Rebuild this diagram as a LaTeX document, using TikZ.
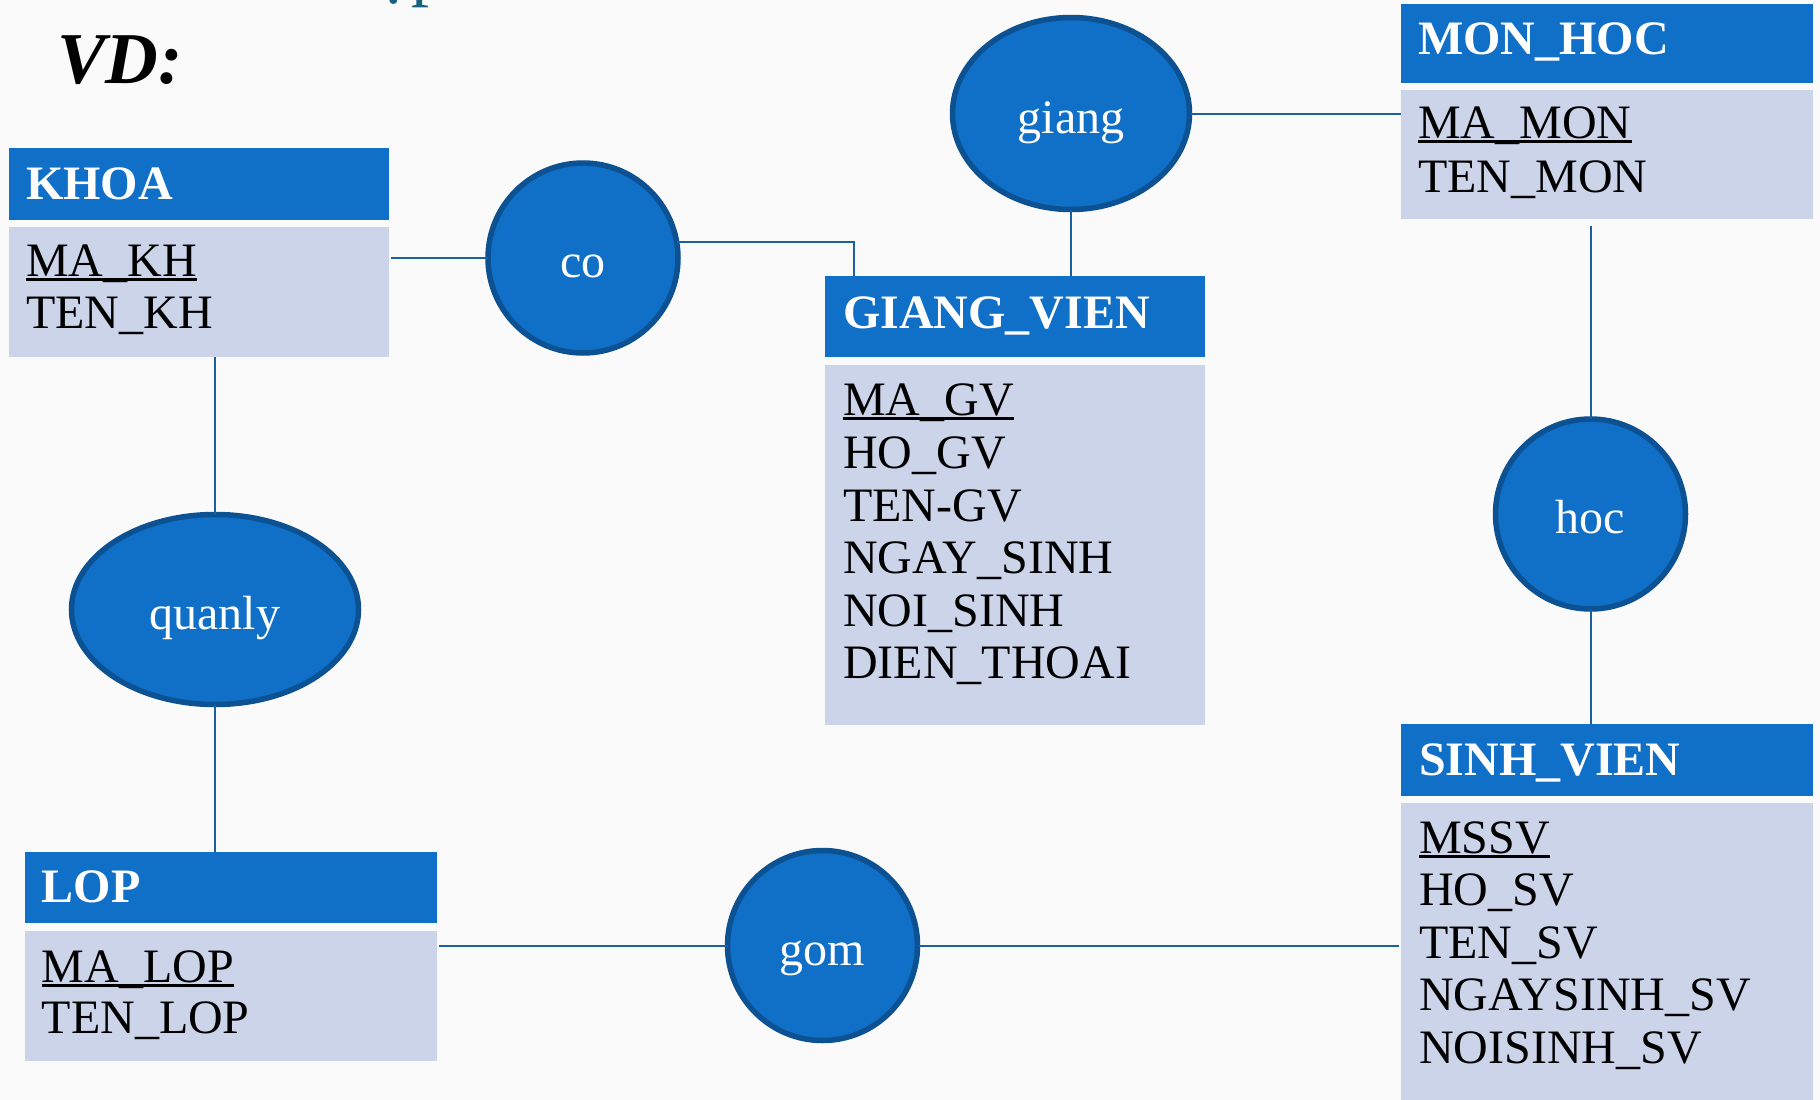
\documentclass[tikz,border=0pt]{standalone}
\usepackage{fontspec}
\setmainfont{Liberation Serif}
\usetikzlibrary{shapes.geometric}
\definecolor{hblue}{HTML}{106FC6}
\definecolor{bfill}{HTML}{CCD4EA}
\definecolor{rline}{HTML}{0C5192}
\definecolor{cline}{HTML}{1A5FA0}
\definecolor{bgc}{HTML}{FAFAFA}
\definecolor{fragc}{HTML}{17607E}
\newcommand\ulx[1]{\setbox0=\hbox{#1}\rlap{\rule[-4.5pt]{\wd0}{2.2pt}}\box0}
\tikzset{
  head/.style={fill=hblue, draw=none, anchor=north west, inner sep=0pt, outer sep=0pt},
  body/.style={fill=bfill, draw=none, anchor=north west, inner sep=0pt, outer sep=0pt},
  rel/.style={ellipse, fill=hblue, draw=rline, line width=5.5pt, inner sep=0pt, outer sep=0pt,
    text=white, font=\fontsize{48}{52}\selectfont, text height=39pt, text depth=0pt},
  link/.style={draw=cline, line width=2pt},
  ttl/.style={anchor=base west, text=white, font=\fontsize{48}{52}\selectfont\bfseries, inner sep=0pt},
  attr/.style={anchor=base west, text=black, font=\fontsize{48}{52}\selectfont, inner sep=0pt},
}
\begin{document}
\begin{tikzpicture}[x=1pt, y=-1pt]
\useasboundingbox (0,0) rectangle (1820,1100);
\fill[bgc] (0,0) rectangle (1820,1100);

% fragment of cut-off title
\node[anchor=base west, inner sep=0pt, text=fragc, font=\fontsize{72}{80}\selectfont] (frag) at (375,-7.6) {ụp};
\node[anchor=base west, inner sep=0pt, font=\fontsize{73}{80}\selectfont\bfseries\itshape] (vd) at (57,83) {VD:};

% KHOA
\node[head, minimum width=380pt, minimum height=72pt] (khoaH) at (9,148) {};
\node[body, minimum width=380pt, minimum height=130pt] (khoaB) at (9,227) {};
\node[ttl] (khoaT) at (26,199) {KHOA};
\node[attr] (khoa1) at (26,276) {\ulx{MA\_KH}};
\node[attr] (khoa2) at (26,328) {TEN\_KH};

% MON_HOC
\node[head, minimum width=412pt, minimum height=79pt] (mhH) at (1401,4) {};
\node[body, minimum width=412pt, minimum height=129pt] (mhB) at (1401,90) {};
\node[ttl] (mhT) at (1418,54) {MON\_HOC};
\node[attr] (mh1) at (1418,138) {\ulx{MA\_MON}};
\node[attr] (mh2) at (1418,192) {TEN\_MON};

% GIANG_VIEN
\node[head, minimum width=380pt, minimum height=81pt] (gvH) at (825,276) {};
\node[body, minimum width=380pt, minimum height=360pt] (gvB) at (825,365) {};
\node[ttl] (gvT) at (843,328) {GIANG\_VIEN};
\node[attr] (gv1) at (843,415) {\ulx{MA\_GV}};
\node[attr] (gv2) at (843,468) {HO\_GV};
\node[attr] (gv3) at (843,521) {TEN-GV};
\node[attr] (gv4) at (843,573) {NGAY\_SINH};
\node[attr] (gv5) at (843,626) {NOI\_SINH};
\node[attr] (gv6) at (843,678) {DIEN\_THOAI};

% SINH_VIEN
\node[head, minimum width=412pt, minimum height=72pt] (svH) at (1401,724) {};
\node[body, minimum width=412pt, minimum height=297pt] (svB) at (1401,803) {};
\node[ttl] (svT) at (1419,775) {SINH\_VIEN};
\node[attr] (sv1) at (1419,853) {\ulx{MSSV}};
\node[attr] (sv2) at (1419,905) {HO\_SV};
\node[attr] (sv3) at (1419,958) {TEN\_SV};
\node[attr] (sv4) at (1419,1010) {NGAYSINH\_SV};
\node[attr] (sv5) at (1419,1063) {NOISINH\_SV};

% LOP
\node[head, minimum width=412pt, minimum height=71pt] (lopH) at (25,852) {};
\node[body, minimum width=412pt, minimum height=130pt] (lopB) at (25,931) {};
\node[ttl] (lopT) at (41.5,902) {LOP};
\node[attr] (lop1) at (41.5,982) {\ulx{MA\_LOP}};
\node[attr] (lop2) at (41.5,1033) {TEN\_LOP};

% relationships
\node[rel, minimum width=190pt, minimum height=190pt] (co) at (583,258) {co};
\node[rel, minimum width=237pt, minimum height=192pt] (giang) at (1071,113.5) {giang};
\node[rel, minimum width=287pt, minimum height=190pt] (quanly) at (215,609.5) {quanly};
\node[rel, minimum width=190pt, minimum height=190pt] (hoc) at (1590.5,514) {hoc};
\node[rel, minimum width=190pt, minimum height=190pt] (gom) at (822.5,945.5) {gom};

% connectors
\draw[link] ([xshift=2pt]co.west -| khoaB.east) -- (co.west);
\draw[link] (co.10) -| ([xshift=29pt]gvH.north west);
\draw[link] (giang.east) -- (giang.east -| mhB.west);
\draw[link] (giang.south) -- (giang.south |- gvH.north);
\path (hoc.north |- mhB.south) ++(0,7) coordinate (mhHoc);
\draw[link] (mhHoc) -- (hoc.north);
\draw[link] (hoc.south) -- (hoc.south |- svH.north);
\draw[link] (quanly.north |- khoaB.south) -- (quanly.north);
\draw[link] (quanly.south) -- (quanly.south |- lopH.north);
\draw[link] ([xshift=2pt]gom.west -| lopB.east) -- (gom.west);
\draw[link] (gom.east) -- ([xshift=-2pt]gom.east -| svB.west);
\end{tikzpicture}
\end{document}
